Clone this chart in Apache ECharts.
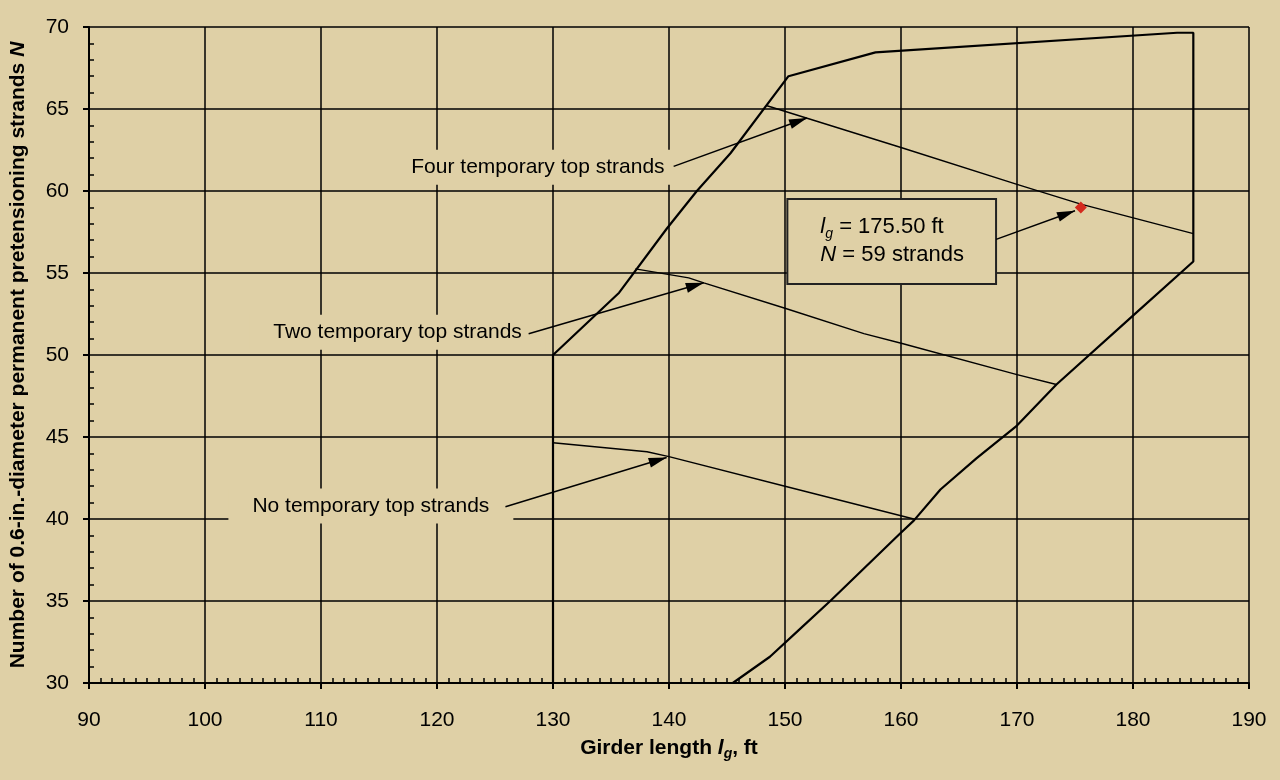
<!DOCTYPE html>
<html>
<head>
<meta charset="utf-8">
<script src="https://cdn.jsdelivr.net/npm/echarts@6/dist/echarts.min.js"></script>
<style>
html,body{margin:0;padding:0;background:#DFD0A6;}
#c{width:1280px;height:780px;}
</style>
</head>
<body>
<div id="c"></div>
<script>
// ---- data ----
var xTicks = [90, 100, 110, 120, 130, 140, 150, 160, 170, 180, 190];
var yTicks = [30, 35, 40, 45, 50, 55, 60, 65, 70];

// outer boundary of the design region
var boundaryX = [145.5, 148.7, 151.3, 153.9, 159.9, 161.1, 163.4, 166.5, 170.0, 173.4, 180.0, 185.2, 185.2, 183.8, 157.8, 150.3, 145.3, 142.4, 139.8, 135.7, 130.0, 130.0];
var boundaryY = [30.0, 31.6, 33.3, 35.0, 39.1, 39.9, 41.8, 43.7, 45.7, 48.2, 52.4, 55.7, 69.65, 69.65, 68.45, 67.0, 62.3, 60.0, 57.7, 53.8, 50.0, 30.0];

// four temporary top strands limit
var fourX = [148.45, 160.0, 170.0, 175.5, 185.2];
var fourY = [65.2, 62.65, 60.4, 59.2, 57.4];

// two temporary top strands limit
var twoX = [137.1, 141.7, 143.0, 150.0, 156.8, 160.1, 170.0, 173.4];
var twoY = [55.25, 54.7, 54.4, 52.85, 51.3, 50.7, 48.8, 48.2];

// no temporary top strands limit
var noX = [130.0, 138.1, 140.0, 150.0, 161.1];
var noY = [44.65, 44.1, 43.8, 42.0, 40.0];

// design point
var pointX = [175.5];
var pointY = [59];

// annotation labels: text, anchor x, anchor y
var labelTexts = ['Four temporary top strands', 'Two temporary top strands', 'No temporary top strands'];
var labelX = [128.7, 116.6, 114.3];
var labelY = [61.45, 51.38, 40.8];

// arrows: from -> to
var arrowFromX = [140.4, 127.9, 125.9, 168.2];
var arrowFromY = [61.5, 51.3, 40.75, 57.05];
var arrowToX = [151.9, 143.0, 139.8, 175.0];
var arrowToY = [64.45, 54.4, 43.75, 58.8];

// design point box (left edge, vertical middle)
var boxX = [150.29];
var boxY = [56.92];

// ---- chart ----
var BG = '#DFD0A6';
var FONT = '"Liberation Sans", Arial, sans-serif';
function pairs(xs, ys) { return xs.map(function (x, i) { return [x, ys[i]]; }); }

var arrowData = arrowFromX.map(function (x, i) {
  return [{ coord: [x, arrowFromY[i]] }, { coord: [arrowToX[i], arrowToY[i]] }];
});

var chart = echarts.init(document.getElementById('c'));
chart.setOption({
  backgroundColor: BG,
  animation: false,
  textStyle: { fontFamily: FONT },
  grid: { left: 88, right: 31, top: 27, bottom: 97 },
  xAxis: [{
    type: 'value', min: xTicks[0], max: xTicks[xTicks.length - 1], interval: 10,
    name: 'Girder length {i|l}{sub|g}, ft',
    nameLocation: 'middle', nameGap: 52,
    nameTextStyle: {
      fontFamily: FONT, fontSize: 21, fontWeight: 'bold', color: '#000',
      rich: {
        i: { fontFamily: FONT, fontSize: 21, fontWeight: 'bold', fontStyle: 'italic', color: '#000', lineHeight: 26 },
        sub: { fontFamily: FONT, fontSize: 14, fontWeight: 'bold', fontStyle: 'italic', color: '#000', lineHeight: 14, verticalAlign: 'bottom' }
      }
    },
    axisLine: { show: true, lineStyle: { color: '#000', width: 2 } },
    axisTick: { show: true, inside: false, length: 6, lineStyle: { color: '#000', width: 2 } },
    axisLabel: { color: '#000', fontSize: 21, fontFamily: FONT, margin: 27 },
    splitLine: { show: true, lineStyle: { color: '#000', width: 1.5 } }
  }, {
    type: 'value', min: xTicks[0], max: xTicks[xTicks.length - 1], interval: 10,
    position: 'bottom',
    axisLine: { show: false },
    axisTick: { show: false, inside: true },
    axisLabel: { show: false },
    splitLine: { show: false },
    minorTick: { show: true, splitNumber: 10, length: 5, lineStyle: { color: '#000', width: 1.5 } }
  }],
  yAxis: [{
    type: 'value', min: yTicks[0], max: yTicks[yTicks.length - 1], interval: 5,
    name: 'Number of 0.6-in.-diameter permanent pretensioning strands {i|N}',
    nameLocation: 'middle', nameGap: 60,
    nameTextStyle: {
      fontFamily: FONT, fontSize: 21, fontWeight: 'bold', color: '#000',
      rich: {
        i: { fontFamily: FONT, fontSize: 21, fontWeight: 'bold', fontStyle: 'italic', color: '#000' }
      }
    },
    axisLine: { show: true, lineStyle: { color: '#000', width: 2 } },
    axisTick: { show: true, inside: false, length: 6, lineStyle: { color: '#000', width: 2 } },
    axisLabel: { color: '#000', fontSize: 21, fontFamily: FONT, margin: 20, padding: [5, 0, 0, 0] },
    splitLine: { show: true, lineStyle: { color: '#000', width: 1.5 } }
  }, {
    type: 'value', min: yTicks[0], max: yTicks[yTicks.length - 1], interval: 5,
    position: 'left',
    axisLine: { show: false },
    axisTick: { show: false, inside: true },
    axisLabel: { show: false },
    splitLine: { show: false },
    minorTick: { show: true, splitNumber: 5, length: 5, lineStyle: { color: '#000', width: 1.5 } }
  }],
  series: [
    {
      type: 'scatter', z: 2, symbolSize: 0, silent: true,
      itemStyle: { opacity: 1 },
      data: labelTexts.map(function (t, i) { return { value: [labelX[i], labelY[i]], name: t }; }),
      label: {
        show: true, position: 'inside', formatter: '{b}',
        color: '#000', fontSize: 21, fontFamily: FONT,
        backgroundColor: BG, padding: [7, 24, 7, 24]
      }
    },
    {
      type: 'scatter', z: 2, symbolSize: 0, silent: true,
      itemStyle: { opacity: 1 },
      data: pairs(boxX, boxY),
      label: {
        show: true, position: 'inside', align: 'left', verticalAlign: 'middle',
        formatter: '{i|l}{sub|g}{t| = 175.50 ft}\n{i|N}{t| = 59 strands}',
        backgroundColor: BG, borderColor: '#222', borderWidth: 2,
        padding: [13, 31, 14, 32],
        rich: {
          i: { fontFamily: FONT, fontSize: 22, fontStyle: 'italic', color: '#000', lineHeight: 28 },
          sub: { fontFamily: FONT, fontSize: 14, fontStyle: 'italic', color: '#000', lineHeight: 14, verticalAlign: 'bottom' },
          t: { fontFamily: FONT, fontSize: 22, color: '#000', lineHeight: 28 }
        }
      }
    },
    {
      type: 'line', z: 3, symbol: 'none', silent: true,
      data: pairs(boundaryX, boundaryY),
      lineStyle: { color: '#000', width: 2.2 }
    },
    {
      type: 'line', z: 3, symbol: 'none', silent: true,
      data: pairs(fourX, fourY),
      lineStyle: { color: '#000', width: 1.4 }
    },
    {
      type: 'line', z: 3, symbol: 'none', silent: true,
      data: pairs(twoX, twoY),
      lineStyle: { color: '#000', width: 1.4 }
    },
    {
      type: 'line', z: 3, symbol: 'none', silent: true,
      data: pairs(noX, noY),
      lineStyle: { color: '#000', width: 1.4 },
      markLine: {
        silent: true, symbol: ['none', 'triangle'], symbolSize: [10, 18],
        symbolOffset: [[0, 0], [0, 9]],
        label: { show: false },
        lineStyle: { color: '#000', width: 1.5, type: 'solid' },
        data: arrowData
      }
    },
    {
      type: 'scatter', z: 4, symbol: 'diamond', symbolSize: 12, silent: true,
      itemStyle: { color: '#D42A1E', opacity: 1 },
      data: pairs(pointX, pointY)
    }
  ]
});
</script>
</body>
</html>
